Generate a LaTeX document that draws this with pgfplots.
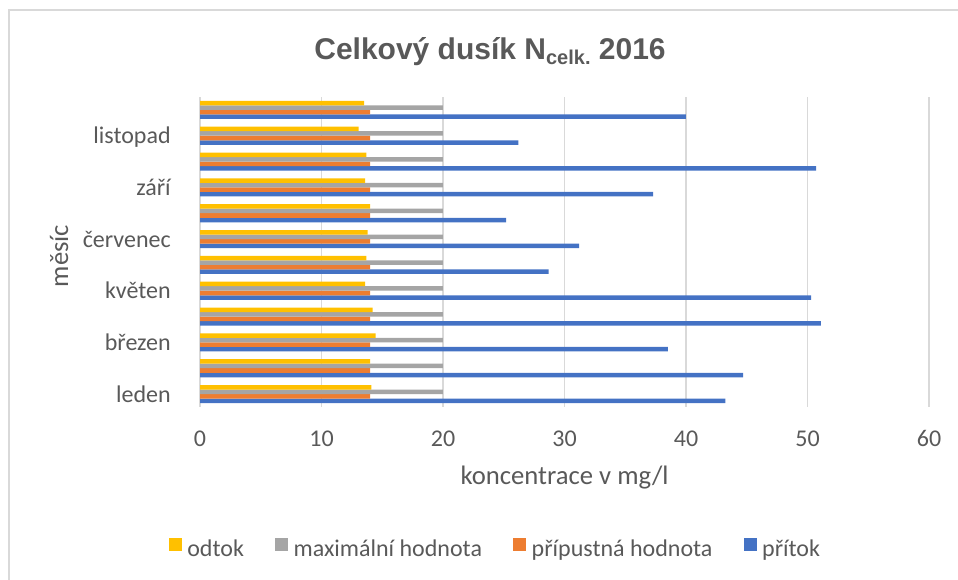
\documentclass[border=0pt]{standalone}
\usepackage{pgfplots}
\pgfplotsset{compat=1.18}
\usepackage{pgfplotstable}
\usepackage{fontspec}
\setmainfont{Carlito}
\newfontfamily\titlefont{Liberation Sans}

\definecolor{txt}{HTML}{595959}
\definecolor{gridc}{HTML}{D9D9D9}
\definecolor{cblue}{HTML}{4472C4}
\definecolor{corange}{HTML}{ED7D31}
\definecolor{cgray}{HTML}{A5A5A5}
\definecolor{cyellow}{HTML}{FFC000}

% months 0 = leden ... 11 = prosinec
\pgfplotstableread{
m  pritok pripustna maxh odtok
0  43.25  14  20  14.10
1  44.70  14  20  14.00
2  38.50  14  20  14.45
3  51.10  14  20  14.20
4  50.30  14  20  13.60
5  28.70  14  20  13.70
6  31.20  14  20  13.80
7  25.20  14  20  14.00
8  37.30  14  20  13.60
9  50.70  14  20  13.70
10 26.20  14  20  13.05
11 40.00  14  20  13.50
}\dusik

\pgfplotsset{
  sq/.style={fill=#1, draw=none,
    legend image code/.code={\fill[#1] (0pt,-1.5pt) rectangle (9.75pt,8.25pt);}},
}

\begin{document}
\begin{tikzpicture}
\path[use as bounding box] (0,0) rectangle (718.5pt,435pt);
\draw[gridc, line width=1.5pt] (6.75pt,0) -- (6.75pt,427.5pt) -- (718.5pt,427.5pt);

\node[font=\titlefont\bfseries\fontsize{22.5}{24}\selectfont, text=txt, anchor=base, inner sep=0pt]
  at (367.5pt,390pt) {Celkový dusík N\raisebox{-3.75pt}{\fontsize{15}{15}\selectfont celk.} 2016};

\begin{axis}[
    at={(150pt,129.75pt)}, anchor=south west,
    scale only axis, width=546.75pt, height=232.5pt,
    xbar=0pt, bar width=3.4pt,
    xmin=0, xmax=60, ymin=-0.5, ymax=11.5,
    xtick={0,10,...,60},
    ytick={0,2,4,6,8,10},
    yticklabels={leden,březen,květen,červenec,září,listopad},
    axis line style={draw=none},
    tick style={draw=none},
    xmajorgrids, ymajorgrids=false,
    major grid style={gridc, line width=1.2pt},
    /pgf/number format/assume math mode=true,
    tick label style={font=\fontsize{18}{18}\selectfont, text=txt, inner sep=0pt},
    xticklabel style={anchor=base, yshift=-30pt},
    yticklabel style={anchor=base east, xshift=-17.5pt, yshift=-6pt},
    reverse legend,
    legend columns=4,
    legend style={at={(axis description cs:0.404,-0.455)}, anchor=center,
      draw=none, fill=none, font=\fontsize{18}{18}\selectfont, text=txt,
      nodes={inner sep=0pt},
      /tikz/every odd column/.append style={column sep=4pt},
      /tikz/every even column/.append style={column sep=23.5pt}},
  ]
  \addplot[sq=cblue] table[x=pritok, y=m] {\dusik};
  \addplot[sq=corange] table[x=pripustna, y=m] {\dusik};
  \addplot[sq=cgray] table[x=maxh, y=m] {\dusik};
  \addplot[sq=cyellow] table[x=odtok, y=m] {\dusik};
  \legend{přítok, přípustná hodnota, maximální hodnota, odtok}
\end{axis}

\node[font=\fontsize{20}{20}\selectfont, text=txt, anchor=base, rotate=90, inner sep=0pt]
  at (51pt,243pt) {měsíc};
\node[font=\fontsize{20}{20}\selectfont, text=txt, anchor=base, inner sep=0pt]
  at (423.4pt,71.25pt) {koncentrace v mg/l};
\end{tikzpicture}
\end{document}
